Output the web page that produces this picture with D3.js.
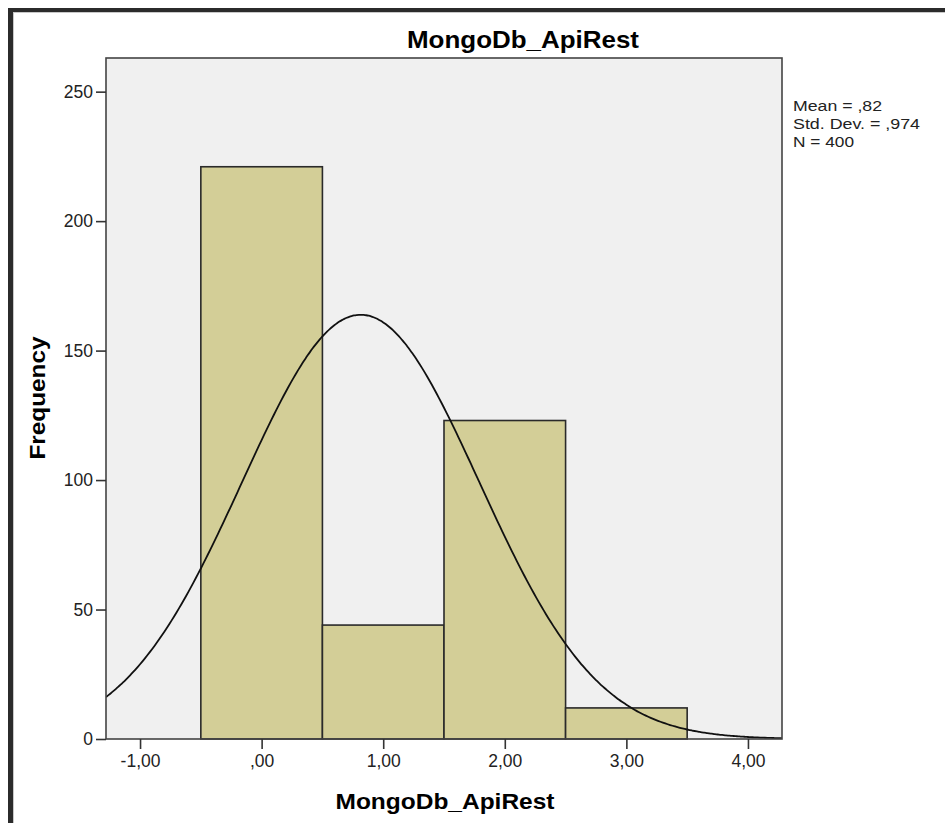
<!DOCTYPE html>
<html>
<head>
<meta charset="utf-8">
<script src="https://cdn.jsdelivr.net/npm/d3@7"></script>
<style>
  body { margin: 0; background: #fff; }
  svg { display: block; font-family: Arial, "Liberation Sans", sans-serif; }
</style>
</head>
<body>
<svg id="chart" width="945" height="823"></svg>
<script>
// histogram bins (lower edge, upper edge) and counts
const binStarts = [-0.5, 0.5, 1.5, 2.5];
const binWidth = 1;
const counts = [221, 44, 123, 12];
const xTicks = [-1, 0, 1, 2, 3, 4];
const xTickLabels = ["-1,00", ",00", "1,00", "2,00", "3,00", "4,00"];
const yTicks = [0, 50, 100, 150, 200, 250];
const statLines = ["Mean = ,82", "Std. Dev. = ,974", "N = 400"];
const statWidths = [89, 127, 61];
const mean = 0.815, sd = 0.974, n = 400;

const svg = d3.select("#chart");
const W = 945, H = 823;
const m = { left: 106, right: 782, top: 58, bottom: 739 };

// window frame (top + left dark edges)
svg.append("rect").attr("x", 8).attr("y", 8).attr("width", W - 8).attr("height", 4).attr("fill", "#2b2b2b");
svg.append("rect").attr("x", 8).attr("y", 8).attr("width", 5).attr("height", H - 8).attr("fill", "#2b2b2b");
svg.append("line").attr("x1", 13).attr("x2", W).attr("y1", 12.5).attr("y2", 12.5).attr("stroke", "#c8c8c8");
svg.append("line").attr("x1", 13.5).attr("x2", 13.5).attr("y1", 12).attr("y2", H).attr("stroke", "#c8c8c8");

const x = d3.scaleLinear().domain([-1.28, 4.28]).range([m.left, m.right]);
const y = d3.scaleLinear().domain([0, 263]).range([m.bottom, m.top]);

svg.append("rect")
  .attr("x", m.left).attr("y", m.top)
  .attr("width", m.right - m.left).attr("height", m.bottom - m.top)
  .attr("fill", "#f0f0f0");

const defs = svg.append("defs");
defs.append("clipPath").attr("id", "plotclip")
  .append("rect").attr("x", m.left).attr("y", m.top)
  .attr("width", m.right - m.left).attr("height", m.bottom - m.top);

// bars
svg.append("g").selectAll("rect")
  .data(counts)
  .join("rect")
  .attr("x", (d, i) => x(binStarts[i]))
  .attr("width", (d, i) => x(binStarts[i] + binWidth) - x(binStarts[i]))
  .attr("y", d => y(d))
  .attr("height", d => y(0) - y(d))
  .attr("fill", "#d3ce97")
  .attr("stroke", "#2a2a2a")
  .attr("stroke-width", 1.6);

// normal curve
const peak = n * binWidth / (sd * Math.sqrt(2 * Math.PI));
const curveXs = d3.range(-1.28, 4.2801, 0.02);
const line = d3.line()
  .x(d => x(d))
  .y(d => y(peak * Math.exp(-0.5 * ((d - mean) / sd) ** 2)))
  .curve(d3.curveBasis);
svg.append("path")
  .datum(curveXs)
  .attr("clip-path", "url(#plotclip)")
  .attr("d", line)
  .attr("fill", "none")
  .attr("stroke", "#111")
  .attr("stroke-width", 1.8);

// plot frame
svg.append("rect")
  .attr("x", m.left).attr("y", m.top)
  .attr("width", m.right - m.left).attr("height", m.bottom - m.top)
  .attr("fill", "none").attr("stroke", "#444").attr("stroke-width", 1.6);

// axes
const xAxis = svg.append("g")
  .attr("transform", `translate(0,${m.bottom})`)
  .call(d3.axisBottom(x).tickValues(xTicks).tickFormat((d, i) => xTickLabels[i]).tickSize(10).tickPadding(6));
const yAxis = svg.append("g")
  .attr("transform", `translate(${m.left},0)`)
  .call(d3.axisLeft(y).tickValues(yTicks).tickSize(10).tickPadding(3));
[xAxis, yAxis].forEach(g => {
  g.select(".domain").remove();
  g.selectAll(".tick line").attr("stroke", "#333").attr("stroke-width", 1.6);
  g.selectAll(".tick text").attr("font-size", 17.5).attr("fill", "#222")
    .attr("font-family", "Arial, 'Liberation Sans', sans-serif");
});

// titles
svg.append("text")
  .attr("x", 523).attr("y", 48)
  .attr("text-anchor", "middle")
  .attr("font-size", 24).attr("font-weight", "bold")
  .attr("textLength", 232).attr("lengthAdjust", "spacingAndGlyphs")
  .text("MongoDb_ApiRest");

svg.append("text")
  .attr("x", 445).attr("y", 809)
  .attr("text-anchor", "middle")
  .attr("font-size", 22).attr("font-weight", "bold")
  .attr("textLength", 219).attr("lengthAdjust", "spacingAndGlyphs")
  .text("MongoDb_ApiRest");

svg.append("text")
  .attr("transform", "translate(45,398) rotate(-90)")
  .attr("text-anchor", "middle")
  .attr("font-size", 22).attr("font-weight", "bold")
  .attr("textLength", 123).attr("lengthAdjust", "spacingAndGlyphs")
  .text("Frequency");

// stats box
svg.append("g").selectAll("text")
  .data(statLines)
  .join("text")
  .attr("x", 793)
  .attr("y", (d, i) => 110.5 + i * 18)
  .attr("font-size", 15.5)
  .attr("textLength", (d, i) => statWidths[i])
  .attr("lengthAdjust", "spacingAndGlyphs")
  .attr("fill", "#222")
  .text(d => d);
</script>
</body>
</html>
